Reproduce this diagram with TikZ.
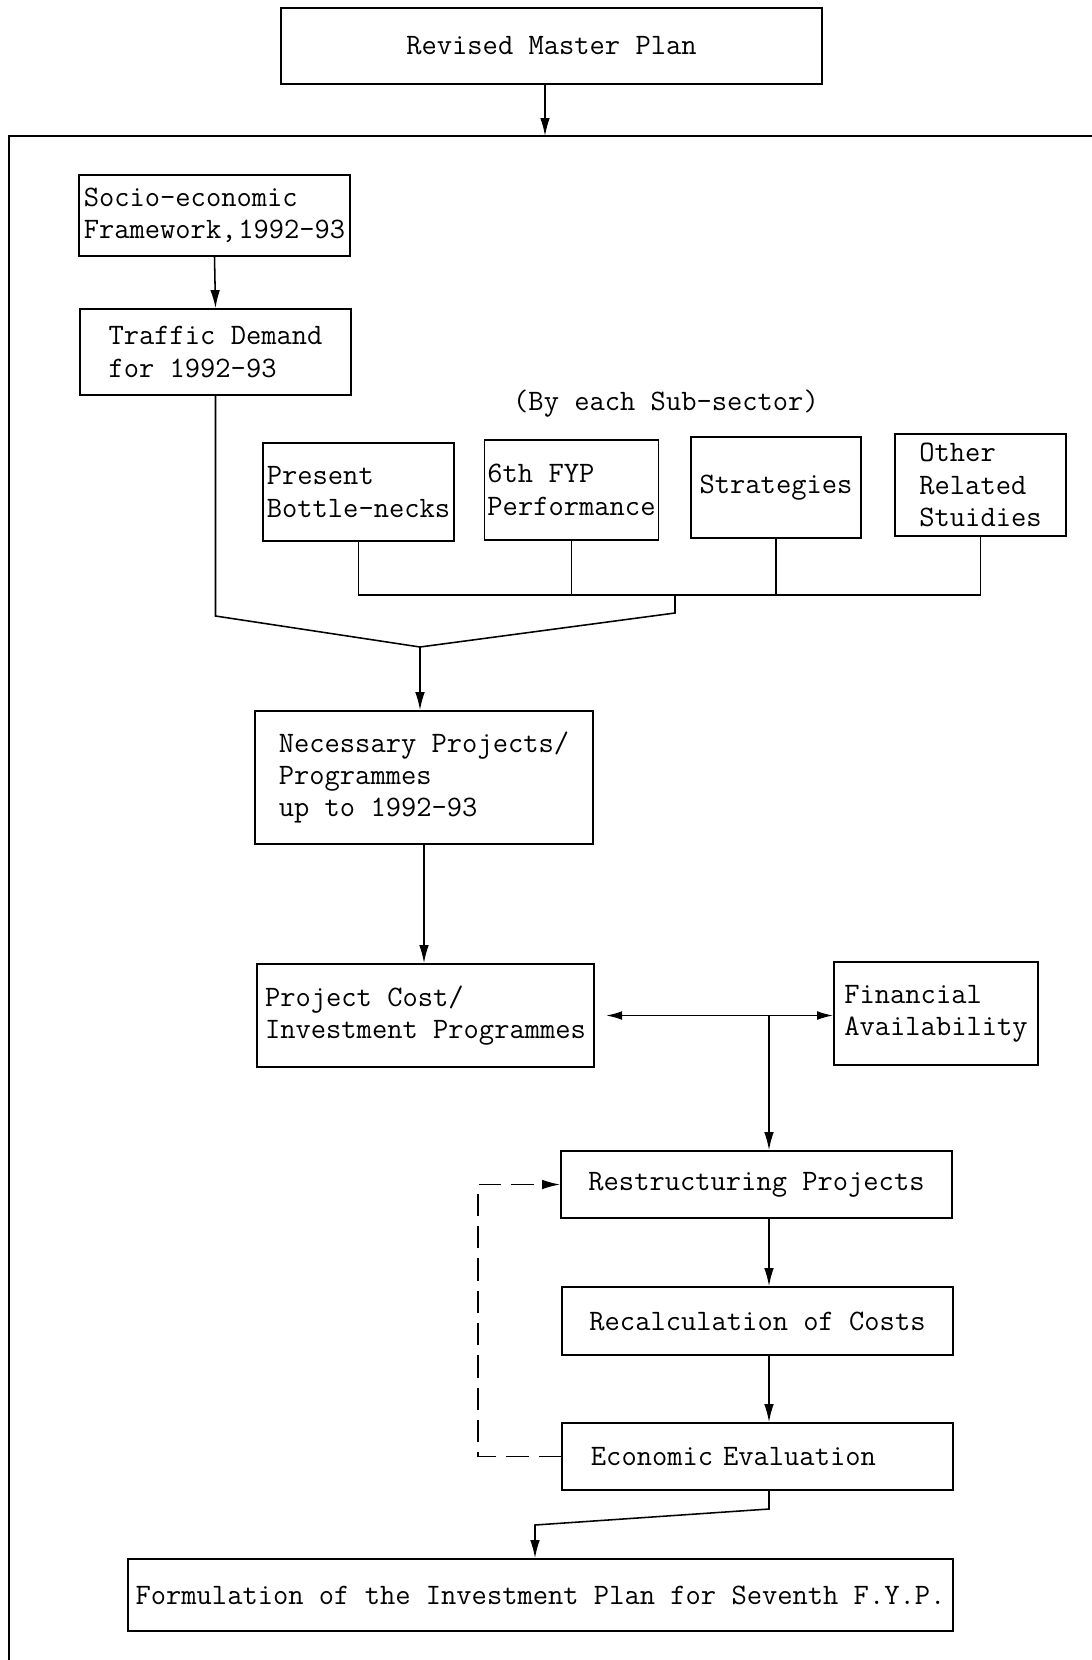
\documentclass[tikz,border=0pt]{standalone}
\usepackage{tikz}
\usetikzlibrary{arrows.meta,positioning,calc}
\tikzset{
  box/.style={rectangle, draw=black, line width=1.2pt, align=left,
              font=\fontsize{21.1}{23}\selectfont\ttfamily, inner sep=2pt},
  lbl/.style={font=\fontsize{21.1}{23}\selectfont\ttfamily, inner sep=2pt},
  arr/.style={-{Latex[length=4.5mm,width=2.4mm]}, line width=1.1pt},
  darr/.style={{Latex[length=4mm,width=2.2mm]}-{Latex[length=4mm,width=2.2mm]}, line width=1.1pt},
  ln/.style={line width=1.1pt},
}

\begin{document}
\begin{tikzpicture}[x=0.025cm, y=-0.025cm]
  \useasboundingbox (0,0) rectangle (1092,1660);

  % top box and frame
  \node[box, align=center, minimum width=13.525cm, minimum height=1.9cm] (rmp) at (551.5,46) {Revised Master Plan};
  \coordinate (ftop) at (545,136);
  \draw[ln] (9,1660) -- (9,136) -- (1092,136);
  \draw[arr] (rmp.south -| ftop) -- (ftop);

  % demand side
  \node[box, inner xsep=1pt, minimum width=6.775cm, minimum height=2.025cm] (socio) at (214.5,215.5) {Socio-economic\\Framework,\hspace{0.06em}1992-93};
  \node[box, minimum width=6.775cm, minimum height=2.15cm] (traffic) at (215.5,352) {Traffic Demand\\for 1992-93};
  \draw[arr] (socio.south) -- (traffic.north);

  % sub-sector inputs
  \node[lbl] (bysub) at (666,404) {(By each Sub-sector)};
  \node[box, minimum width=4.775cm, minimum height=2.45cm] (present) at (358.5,492) {Present\\Bottle-necks};
  \node[box, minimum width=4.275cm, minimum height=2.5cm] (fyp) at (571.5,490) {6th FYP\\Performance};
  \node[box, minimum width=4.25cm, minimum height=2.525cm] (strat) at (776,487.5) {Strategies};
  \node[box, minimum width=4.275cm, minimum height=2.55cm] (other) at (980.5,485) {Other\\Related\\Stuidies};

  \coordinate (bus) at (675,595);
  \coordinate (busd) at (675,613);
  \coordinate (vl) at (221,616);
  \coordinate (meet) at (420,647);
  \draw[ln] (present.south) -- (present.south |- bus) -- (other.south |- bus) -- (other.south);
  \draw[ln] (fyp.south) -- (fyp.south |- bus);
  \draw[ln] (strat.south) -- (strat.south |- bus);
  \draw[ln] (bus) -- (busd) -- (meet);
  \draw[ln] (traffic.south) -- (traffic.south |- vl) -- (meet);

  % projects
  \node[box, minimum width=8.45cm, minimum height=3.325cm] (needs) at (424,777.5) {Necessary Projects/\\Programmes\\up to 1992-93};
  \draw[arr] (meet) -- (meet |- needs.north);
  \node[box, minimum width=8.425cm, minimum height=2.575cm] (cost) at (425.5,1015.5) {Project Cost/\\Investment Programmes};
  \node[box, minimum width=5.1cm, minimum height=2.575cm] (fin) at (936,1013.5) {Financial\\Availability};
  \draw[arr] (needs.south) -- (needs.south |- cost.north);
  \draw[darr, shorten <=8pt] (cost.east) -- (cost.east -| fin.west);

  % restructuring loop
  \coordinate (fj) at (769,1015.5);
  \node[box, align=center, minimum width=9.775cm, minimum height=1.675cm] (restr) at (756.5,1184.5) {Restructuring Projects};
  \node[box, align=center, minimum width=9.775cm, minimum height=1.7cm] (recalc) at (757.5,1321) {Recalculation of Costs};
  \node[box, text width=8.325cm, inner xsep=0.725cm, minimum height=1.675cm] (econ) at (757.5,1456.5) {Economic Evaluation};
  \draw[arr] (fj) -- (fj |- restr.north);
  \draw[arr] (restr.south -| fj) -- (recalc.north -| fj);
  \draw[arr] (recalc.south -| fj) -- (econ.north -| fj);
  \draw[arr, dash pattern=on 16pt off 7pt] (econ.west) -- ++(-83,0) |- (restr.west);

  % result
  \node[box, align=center, minimum width=20.625cm, minimum height=1.8cm] (form) at (540.5,1595) {Formulation of the Investment Plan for Seventh F.Y.P.};
  \coordinate (e1) at (769,1509);
  \coordinate (e2) at (535,1525);
  \draw[arr] (econ.south -| e1) -- (e1) -- (e2) -- (e2 |- form.north);
\end{tikzpicture}
\end{document}
